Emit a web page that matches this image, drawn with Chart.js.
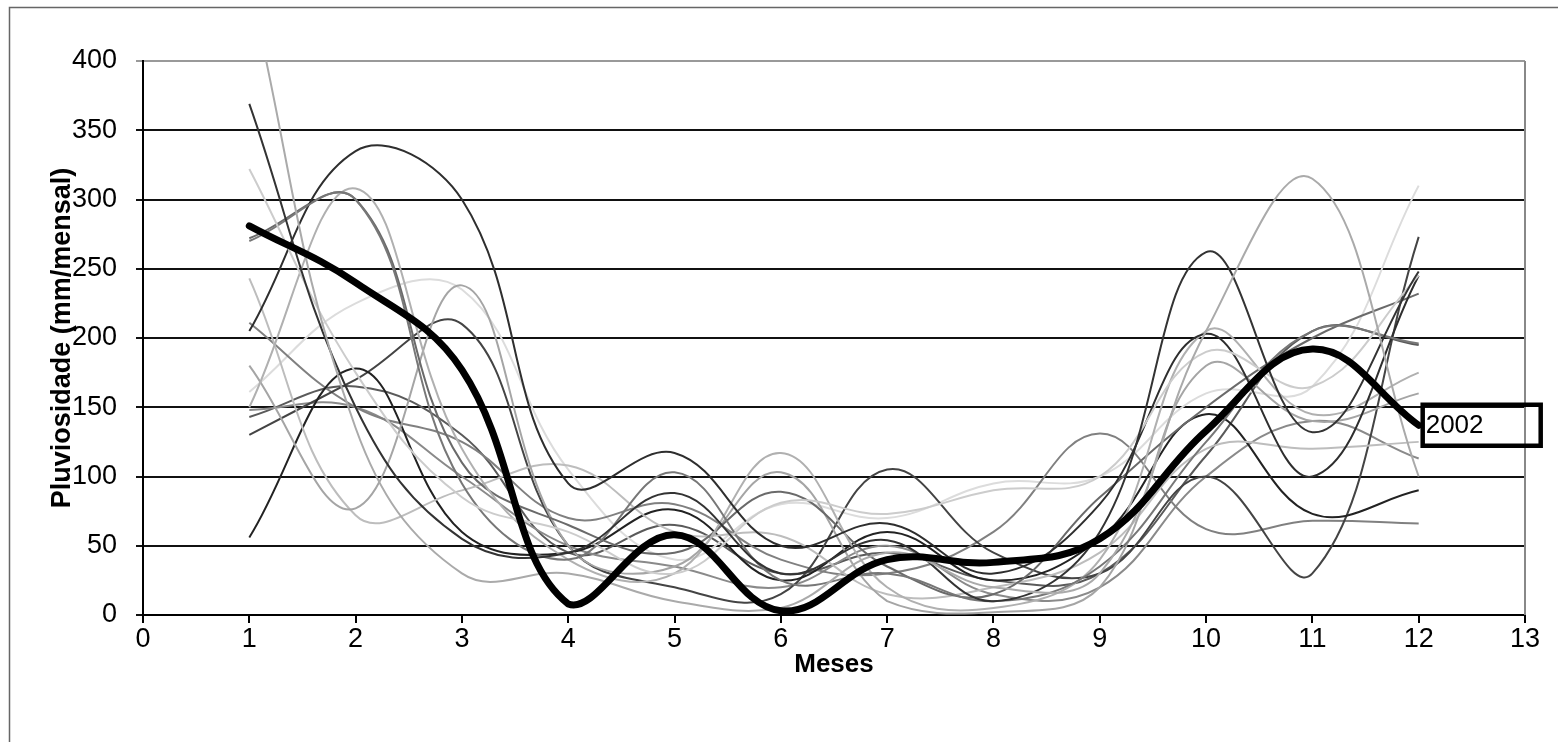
<!DOCTYPE html>
<html>
<head>
<meta charset="utf-8">
<script src="https://cdn.jsdelivr.net/npm/chart.js@4.4.1/dist/chart.umd.min.js"></script>
<style>
html,body{margin:0;padding:0;background:#fff;}
#wrap{position:relative;width:1558px;height:742px;}
canvas{display:block;}
</style>
</head>
<body>
<div id="wrap"><canvas id="c" width="1558" height="742"></canvas></div>
<script>
// Months (x values)
const months = [1,2,3,4,5,6,7,8,9,10,11,12];
const xTicks = [0,1,2,3,4,5,6,7,8,9,10,11,12,13];
const yTicks = [0,50,100,150,200,250,300,350,400];

// Highlighted year
const label2002 = "2002";
const y2002 = [281,240,177,8,58,3,40,38,55,133,192,137];

// Other years (grey lines)
const yearA = [455,135,30,30,10,5,45,20,30,205,315,100];
const yearB = [369,150,55,45,88,30,54,10,60,262,132,248];
const yearC = [322,175,85,60,30,81,73,90,100,190,165,245];
const yearD = [270,300,95,40,103,25,30,10,35,125,205,196];
const yearE = [205,335,300,95,117,50,66,30,80,203,100,245];
const yearF = [150,308,120,40,30,117,20,5,40,205,145,175];
const yearG = [272,300,110,65,45,89,35,15,85,150,200,232];
const yearH = [180,77,238,50,35,103,10,2,20,180,140,160];
const yearI = [243,72,90,108,60,57,15,20,45,120,120,125];
const yearJ = [56,178,60,45,76,25,60,25,55,145,73,90];
const yearK = [130,170,210,50,20,15,105,45,30,100,30,273];
const yearL = [211,150,125,70,80,40,30,60,131,62,68,66];
const yearM = [161,225,235,105,40,80,70,95,100,160,165,310];
const yearN = [148,150,100,50,35,20,50,15,20,100,140,113];
const yearO = [143,165,130,45,65,30,45,25,30,115,205,195];

const greySeries = [yearA,yearB,yearC,yearD,yearE,yearF,yearG,yearH,yearI,yearJ,yearK,yearL,yearM,yearN,yearO];
const greyColors = ['#aaaaaa','#333333','#cccccc','#777777','#2e2e2e','#b0b0b0','#6a6a6a','#a5a5a5','#bdbdbd','#222222','#444444','#808080','#dcdcdc','#8a8a8a','#5a5a5a'];

const toPts = arr => arr.map((v,i)=>({x:months[i], y:v}));

const datasets = [{
  label: label2002,
  data: toPts(y2002),
  borderColor: '#000',
  borderWidth: 7,
  pointRadius: 0,
  tension: 0.4,
  borderCapStyle: 'round'
}];
greySeries.forEach((s,i)=>{
  datasets.push({
    label: 'y'+i,
    data: toPts(s),
    borderColor: greyColors[i],
    borderWidth: 2,
    pointRadius: 0,
    tension: 0.4
  });
});

const FONT = "'Liberation Sans', Arial, sans-serif";

const decor = {
  id: 'decor',
  afterDraw(chart){
    const ctx = chart.ctx;
    const a = chart.chartArea;
    ctx.save();
    // outer frame
    ctx.strokeStyle = '#666';
    ctx.lineWidth = 1.5;
    ctx.beginPath();
    ctx.moveTo(9.5, 760);
    ctx.lineTo(9.5, 7.5);
    ctx.lineTo(1570, 7.5);
    ctx.stroke();
    // right plot border
    ctx.strokeStyle = '#888';
    ctx.lineWidth = 2;
    ctx.beginPath();
    ctx.moveTo(a.right, a.top);
    ctx.lineTo(a.right, a.bottom);
    ctx.stroke();
    // label box for 2002
    const xs = chart.scales.x, ys = chart.scales.y;
    const px = xs.getPixelForValue(months[months.length-1]);
    const py = ys.getPixelForValue(y2002[y2002.length-1]);
    const bx = px + 4, bw = 118, bh = 41;
    ctx.strokeStyle = '#000';
    ctx.lineWidth = 4.5;
    ctx.strokeRect(bx, py - bh/2, bw, bh);
    ctx.fillStyle = '#000';
    ctx.font = "26px " + FONT;
    ctx.textBaseline = 'middle';
    ctx.textAlign = 'left';
    ctx.fillText(label2002, bx + 3, py + 1);
    ctx.restore();
  }
};

new Chart(document.getElementById('c'), {
  type: 'line',
  data: { datasets },
  options: {
    responsive: false,
    animation: false,
    layout: { padding: { top: 61, right: 33, left: 0, bottom: 0 } },
    plugins: { legend: { display: false }, tooltip: { enabled: false } },
    scales: {
      x: {
        type: 'linear',
        min: 0, max: 13,
        afterBuildTicks: s => { s.ticks = xTicks.map(v=>({value:v})); },
        afterFit: s => { s.height = 127; },
        grid: { drawOnChartArea: false, drawTicks: true, tickLength: 8, color: '#000', lineWidth: 2 },
        border: { color: '#000', width: 2 },
        ticks: { color: '#000', font: { family: FONT, size: 27 }, padding: 0, maxRotation: 0 },
        title: { display: true, text: 'Meses', color: '#000', font: { family: FONT, size: 26, weight: 'bold' }, padding: { top: 0, bottom: 62 } }
      },
      y: {
        min: 0, max: 400,
        afterBuildTicks: s => { s.ticks = yTicks.map(v=>({value:v})); },
        afterFit: s => { s.width = 143; },
        grid: {
          color: c => (c.tick && c.tick.value === 400) ? '#999' : '#111',
          lineWidth: 2,
          tickLength: 7
        },
        border: { color: '#000', width: 2 },
        ticks: { color: '#000', font: { family: FONT, size: 27 }, padding: 19 },
        title: { display: true, text: 'Pluviosidade (mm/mensal)', color: '#000', font: { family: FONT, size: 27, weight: 'bold' }, padding: { top: 46, bottom: 0 } }
      }
    }
  },
  plugins: [decor]
});
</script>
</body>
</html>
